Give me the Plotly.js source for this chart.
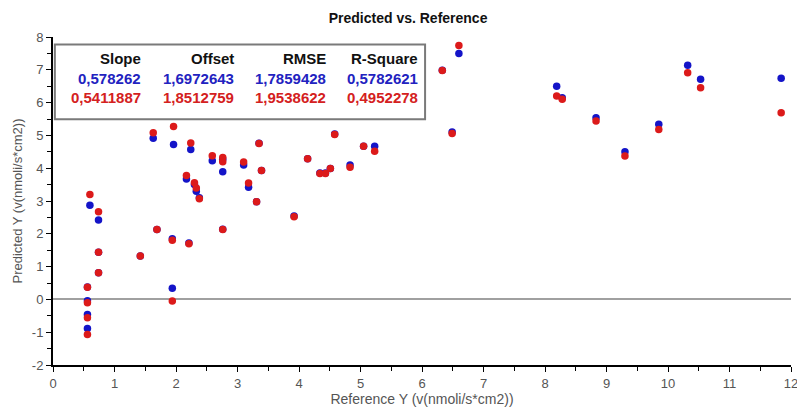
<!DOCTYPE html>
<html>
<head>
<meta charset="utf-8">
<script src="https://cdn.plot.ly/plotly-3.0.1.min.js"></script>
<style>html,body{margin:0;padding:0;background:#fff}#chart{width:797px;height:410px}</style>
</head>
<body>
<div id="chart"></div>
<script>
// Reference values (x) shared by both series
const referenceY = [0.60,0.74,0.74,0.74,0.56,0.56,0.56,0.56,1.42,1.63,1.69,1.96,1.94,1.94,2.24,2.21,2.17,2.30,2.33,2.38,2.59,2.76,2.76,2.76,3.10,3.35,3.39,3.18,3.31,3.92,4.14,4.58,4.34,4.43,4.51,4.83,5.05,5.23,6.60,6.33,6.49,8.19,8.28,8.83,9.30,9.85,10.32,10.53,11.84];
// Predicted values, blue model
const predictedBlue = [2.87,2.42,1.44,0.81,0.38,-0.04,-0.46,-0.89,1.32,4.91,2.13,4.72,1.85,0.34,4.57,1.72,3.67,3.50,3.30,3.10,4.23,4.27,3.89,2.14,4.10,4.76,3.93,3.42,2.98,2.54,4.29,5.04,3.85,3.85,3.99,4.10,4.67,4.67,7.50,6.99,5.10,6.50,6.15,5.54,4.50,5.34,7.14,6.71,6.74];
// Predicted values, red model
const predictedRed = [3.20,2.67,1.44,0.81,0.37,-0.10,-0.56,-1.07,1.32,5.08,2.13,5.27,1.80,-0.05,4.77,1.70,3.78,3.56,3.40,3.07,4.38,4.33,4.20,2.13,4.19,4.75,3.93,3.55,2.98,2.52,4.29,5.03,3.84,3.84,3.99,4.03,4.67,4.52,7.74,6.98,5.06,6.20,6.10,5.44,4.37,5.18,6.91,6.45,5.69];

const statHeaders = ["Slope","Offset","RMSE","R-Square"];
const statsBlue = ["0,578262","1,6972643","1,7859428","0,5782621"];
const statsRed = ["0,5411887","1,8512759","1,9538622","0,4952278"];

const xTickVals = [0,1,2,3,4,5,6,7,8,9,10,11,12];
const yTickVals = [-2,-1,0,1,2,3,4,5,6,7,8];

const BLUE = "#1414c8", RED = "#dc1a1a";
const FONT = "Liberation Sans, Arial, sans-serif";

const traces = [
  {x: referenceY, y: predictedBlue, mode: "markers", type: "scatter", name: "blue",
   marker: {color: BLUE, size: 7.5}},
  {x: referenceY, y: predictedRed, mode: "markers", type: "scatter", name: "red",
   marker: {color: RED, size: 7.5}}
];

// legend table placement (data coords)
const colRight = [1.47, 2.98, 4.47, 5.97];
const rowY = [7.34, 6.73, 6.17];
const annotations = [];
[statHeaders, statsBlue, statsRed].forEach((row, r) => {
  const color = r === 0 ? "#111" : (r === 1 ? "#2222c0" : "#d42020");
  row.forEach((t, c) => {
    annotations.push({x: colRight[c], y: rowY[r], xref: "x", yref: "y", text: "<b>" + t + "</b>",
      showarrow: false, xanchor: "right", yanchor: "middle",
      font: {family: FONT, size: 15, color: color}});
  });
});

const layout = {
  width: 797, height: 410,
  margin: {l: 53, r: 6, t: 37, b: 45},
  paper_bgcolor: "#fff", plot_bgcolor: "#fff",
  showlegend: false,
  title: {text: "<b>Predicted vs. Reference</b>", x: 0.512, xanchor: "center", y: 0.955, yanchor: "middle",
    font: {family: FONT, size: 14, color: "#111"}},
  xaxis: {range: [0, 12], tickvals: xTickVals, ticktext: xTickVals.map(String),
    showline: true, linecolor: "#000", linewidth: 2, showgrid: false, zeroline: false,
    ticks: "outside", ticklen: 5, tickcolor: "#000", tickwidth: 1, ticklabeloverflow: "allow",
    minor: {dtick: 0.5, ticks: "outside", ticklen: 4, tickcolor: "#000", showgrid: false},
    tickfont: {family: FONT, size: 13, color: "#555"},
    title: {text: "Reference Y (v(nmoli/s*cm2))", font: {family: FONT, size: 14, color: "#555"}, standoff: 4}},
  yaxis: {range: [-2, 8], tickvals: yTickVals, ticktext: yTickVals.map(String),
    showline: true, linecolor: "#000", linewidth: 2, showgrid: false,
    zeroline: true, zerolinecolor: "#a0a0a0", zerolinewidth: 2,
    ticks: "outside", ticklen: 5, tickcolor: "#000", tickwidth: 1,
    minor: {dtick: 0.5, ticks: "outside", ticklen: 4, tickcolor: "#000", showgrid: false},
    tickfont: {family: FONT, size: 13, color: "#555"},
    title: {text: "Predicted Y (v(nmoli/s*cm2))", font: {family: FONT, size: 13, color: "#555"}, standoff: 6}},
  shapes: [{type: "rect", xref: "x", yref: "y", x0: 0.03, x1: 6.05, y0: 5.49, y1: 7.77,
    line: {color: "#7a7a7a", width: 2}, fillcolor: "#fff", layer: "above"}],
  annotations: annotations
};

Plotly.newPlot("chart", traces, layout, {displayModeBar: false, staticPlot: true});
</script>
</body>
</html>
